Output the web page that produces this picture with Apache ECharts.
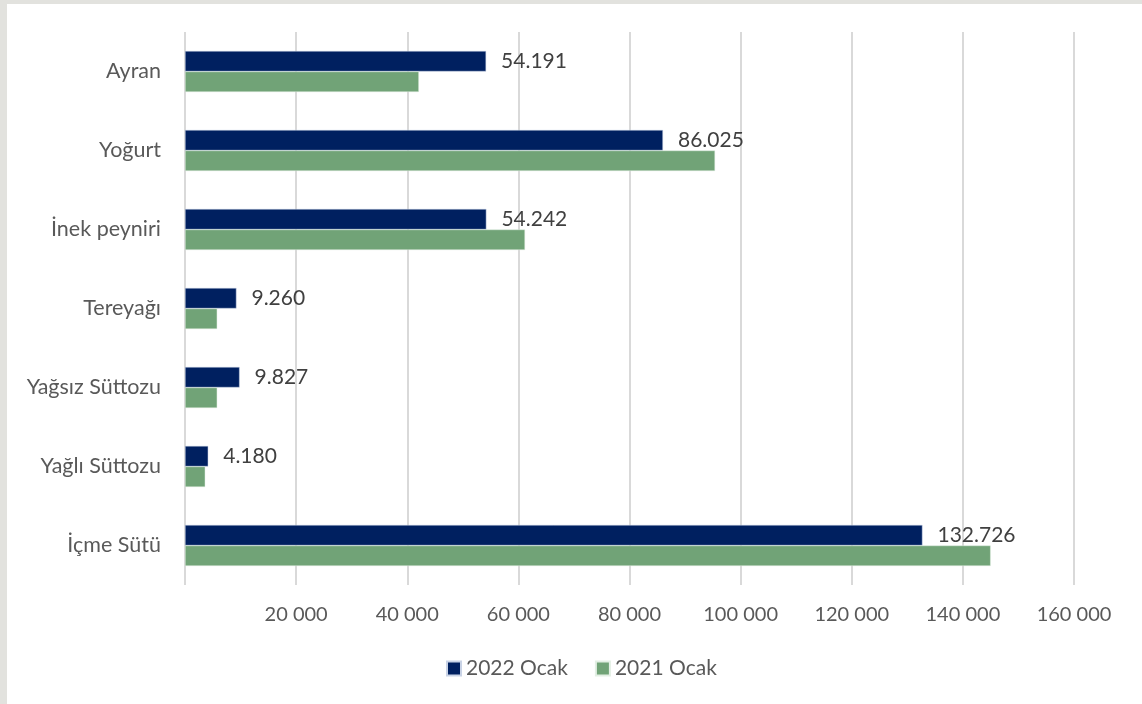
<!DOCTYPE html>
<html>
<head>
<meta charset="utf-8">
<script src="https://cdn.jsdelivr.net/npm/echarts@6/dist/echarts.min.js"></script>
<style>
  html, body { margin: 0; padding: 0; background: #e2e2de; width: 1142px; height: 704px; overflow: hidden; }
  #chart { position: absolute; left: 7px; top: 4px; width: 1135px; height: 700px; background: #ffffff; }
</style>
</head>
<body>
<div id="chart"></div>
<script>
const categories = ['Ayran', 'Yoğurt', 'İnek peyniri', 'Tereyağı', 'Yağsız Süttozu', 'Yağlı Süttozu', 'İçme Sütü'];
const seriesNames = ['2022 Ocak', '2021 Ocak'];
const values2022 = [54191, 86025, 54242, 9260, 9827, 4180, 132726];
const values2021 = [42100, 95400, 61200, 5800, 5800, 3650, 145000];
const xTicks = [0, 20000, 40000, 60000, 80000, 100000, 120000, 140000, 160000];

const FONT = 'Lato, "Open Sans", sans-serif';
const chart = echarts.init(document.getElementById('chart'));
function dotFmt(v) { return String(v).replace(/\B(?=(\d{3})+(?!\d))/g, '.'); }
function spaceFmt(v) { return v === 0 ? '' : String(v).replace(/\B(?=(\d{3})+(?!\d))/g, ' '); }

chart.setOption({
  animation: false,
  textStyle: { fontFamily: FONT },
  grid: { left: 178, right: 68, top: 28, bottom: 119, containLabel: false },
  legend: {
    bottom: 20, left: 434,
    itemWidth: 14, itemHeight: 14, itemGap: 27,
    icon: 'rect',
    textStyle: { color: '#595959', fontSize: 21, fontFamily: FONT },
    data: seriesNames
  },
  xAxis: {
    type: 'value',
    min: xTicks[0], max: xTicks[xTicks.length - 1], interval: xTicks[1] - xTicks[0],
    axisLine: { show: false },
    axisTick: { show: false },
    splitLine: { show: true, lineStyle: { color: '#d9d9d9', width: 2 } },
    axisLabel: { color: '#595959', fontSize: 20, margin: 20, formatter: spaceFmt, fontFamily: FONT }
  },
  yAxis: {
    type: 'category',
    data: categories,
    inverse: true,
    axisLine: { show: false },
    axisTick: { show: false },
    axisLabel: { color: '#595959', fontSize: 21.5, margin: 24, fontFamily: FONT }
  },
  series: [
    {
      name: seriesNames[0], type: 'bar', data: values2022,
      barGap: '0%', barCategoryGap: '48%',
      itemStyle: { color: '#002060', borderColor: '#c9d3e6', borderWidth: 0.5 },
      label: { show: true, position: 'right', distance: 15, color: '#404040', fontSize: 21, fontFamily: FONT,
               formatter: p => dotFmt(p.value) }
    },
    {
      name: seriesNames[1], type: 'bar', data: values2021,
      barGap: '0%', barCategoryGap: '48%',
      itemStyle: { color: '#71a377', borderColor: '#e3efe4', borderWidth: 0.5 }
    }
  ]
});
</script>
</body>
</html>
